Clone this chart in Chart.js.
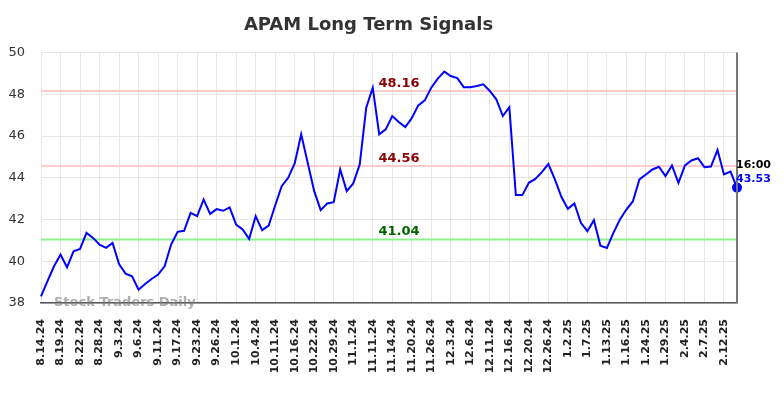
<!DOCTYPE html>
<html>
<head>
<meta charset="utf-8">
<script src="https://cdn.jsdelivr.net/npm/chart.js@4.4.1/dist/chart.umd.min.js"></script>
<style>
  html, body { margin: 0; padding: 0; background: #fff; }
  #wrap { width: 784px; height: 398px; }
</style>
</head>
<body>
<div id="wrap"><canvas id="grafico"></canvas></div>
<script>
// dados do grafico
const datas = [
  '8.14.24','8.15.24','8.16.24','8.19.24','8.20.24','8.21.24','8.22.24','8.23.24','8.27.24','8.28.24',
  '8.29.24','8.30.24','9.3.24','9.4.24','9.5.24','9.6.24','9.9.24','9.10.24','9.11.24','9.12.24',
  '9.16.24','9.17.24','9.18.24','9.20.24','9.23.24','9.24.24','9.25.24','9.26.24','9.27.24','9.30.24',
  '10.1.24','10.2.24','10.3.24','10.4.24','10.8.24','10.10.24','10.11.24','10.14.24','10.15.24','10.16.24',
  '10.17.24','10.21.24','10.22.24','10.24.24','10.28.24','10.29.24','10.30.24','10.31.24','11.1.24','11.5.24',
  '11.7.24','11.11.24','11.12.24','11.13.24','11.14.24','11.18.24','11.19.24','11.20.24','11.21.24','11.25.24',
  '11.26.24','11.27.24','12.2.24','12.3.24','12.4.24','12.5.24','12.6.24','12.9.24','12.10.24','12.11.24',
  '12.12.24','12.13.24','12.16.24','12.17.24','12.19.24','12.20.24','12.23.24','12.24.24','12.26.24','12.27.24',
  '12.31.24','1.2.25','1.3.25','1.6.25','1.7.25','1.8.25','1.10.25','1.13.25','1.14.25','1.15.25',
  '1.16.25','1.21.25','1.23.25','1.24.25','1.27.25','1.28.25','1.29.25','1.31.25','2.3.25','2.4.25',
  '2.5.25','2.6.25','2.7.25','2.10.25','2.11.25','2.12.25','2.13.25','2.14.25'
]

const precos = [
  38.32, 39.05, 39.76, 40.32, 39.71, 40.48, 40.59, 41.36, 41.12, 40.80,
  40.64, 40.88, 39.87, 39.41, 39.28, 38.64, 38.91, 39.15, 39.36, 39.76,
  40.80, 41.41, 41.46, 42.32, 42.16, 42.96, 42.27, 42.50, 42.42, 42.58,
  41.76, 41.52, 41.07, 42.16, 41.49, 41.71, 42.67, 43.60, 44.00, 44.69,
  46.08, 44.72, 43.36, 42.45, 42.77, 42.83, 44.40, 43.36, 43.73, 44.64,
  47.36, 48.32, 46.08, 46.32, 46.96, 46.67, 46.43, 46.86, 47.47, 47.71,
  48.32, 48.75, 49.09, 48.88, 48.78, 48.34, 48.34, 48.40, 48.48, 48.16,
  47.76, 46.96, 47.38, 43.17, 43.17, 43.76, 43.95, 44.27, 44.66, 43.92,
  43.09, 42.51, 42.77, 41.84, 41.44, 41.97, 40.75, 40.64, 41.36, 42.00,
  42.48, 42.88, 43.92, 44.16, 44.40, 44.53, 44.08, 44.59, 43.76, 44.59,
  44.83, 44.94, 44.51, 44.54, 45.33, 44.16, 44.30, 43.53
]

// linhas de sinal
const niveis = [48.16, 44.56, 41.04]
const coresNivel = ['#ffcccc', '#ffcccc', '#90ee90']
const coresTexto = ['#8b0000', '#8b0000', '#006400']

const ultimoHorario = '16:00'

const fonte = "'DejaVu Sans', sans-serif"

// plugin pra desenhar os niveis, textos e a linha da direita
const extras = {
  id: 'extras',
  beforeDatasetsDraw(chart) {
    const ctx = chart.ctx
    const area = chart.chartArea
    const y = chart.scales.y
    ctx.save()
    niveis.forEach((n, i) => {
      const py = y.getPixelForValue(n)
      ctx.strokeStyle = coresNivel[i]
      ctx.lineWidth = 2
      ctx.beginPath()
      ctx.moveTo(area.left, py)
      ctx.lineTo(area.right, py)
      ctx.stroke()
    })
    // marca d'agua
    ctx.font = 'bold 13px ' + fonte
    ctx.fillStyle = 'rgba(120,120,120,0.6)'
    ctx.textAlign = 'left'
    ctx.textBaseline = 'middle'
    ctx.fillText('Stock Traders Daily', area.left + 13, area.bottom)
    ctx.restore()
  },
  afterDatasetsDraw(chart) {
    const ctx = chart.ctx
    const area = chart.chartArea
    const x = chart.scales.x
    const y = chart.scales.y
    ctx.save()
    ctx.font = 'bold 13px ' + fonte
    ctx.textAlign = 'center'
    ctx.textBaseline = 'bottom'
    const meio = (area.left + area.right) / 2 + 10
    niveis.forEach((n, i) => {
      ctx.fillStyle = coresTexto[i]
      ctx.fillText(n.toFixed(2), meio, y.getPixelForValue(n) - 1)
    })
    // linha vertical da direita
    ctx.strokeStyle = '#777'
    ctx.lineWidth = 2
    ctx.beginPath()
    ctx.moveTo(area.right, area.top)
    ctx.lineTo(area.right, area.bottom)
    ctx.stroke()
    // ultimo preco
    const ult = precos.length - 1
    const px = x.getPixelForValue(ult)
    const py = y.getPixelForValue(precos[ult])
    ctx.font = 'bold 11px ' + fonte
    ctx.textAlign = 'left'
    ctx.textBaseline = 'middle'
    ctx.fillStyle = '#000'
    ctx.fillText(ultimoHorario, px - 1, py - 22)
    ctx.fillStyle = '#0000ff'
    ctx.fillText(precos[ult].toFixed(2), px - 1, py - 8)
    ctx.restore()
  }
}

const raios = precos.map((p, i) => i === precos.length - 1 ? 4 : 0)

const config = {
  type: 'line',
  data: {
    labels: datas,
    datasets: [{
      data: precos,
      borderColor: '#0000ff',
      backgroundColor: '#0000ff',
      borderWidth: 2,
      pointRadius: raios,
      pointHoverRadius: raios,
      tension: 0,
      fill: false
    }]
  },
  options: {
    responsive: false,
    animation: false,
    layout: { padding: { left: 0, right: 47, top: 0, bottom: 0 } },
    plugins: {
      legend: { display: false },
      tooltip: { enabled: false },
      title: {
        display: true,
        text: 'APAM Long Term Signals',
        color: '#333',
        font: { family: fonte, size: 18, weight: 'bold' },
        padding: { top: 15, bottom: 16 }
      }
    },
    scales: {
      x: {
        offset: false,
        grid: { color: '#e6e6e6', drawTicks: false },
        border: { color: '#555', width: 1.5 },
        ticks: {
          autoSkip: false,
          maxRotation: 90,
          minRotation: 90,
          padding: 16,
          color: '#222',
          font: { family: fonte, size: 11, weight: 'bold' },
          callback: function (v, i) { return i % 3 === 0 ? datas[i] : null }
        },
        afterFit: (s) => { s.height = 95 }
      },
      y: {
        min: 38,
        max: 50,
        grid: { color: '#e6e6e6', drawTicks: false },
        border: { display: false },
        ticks: {
          stepSize: 2,
          padding: 16,
          color: '#333',
          font: { family: fonte, size: 13 }
        },
        afterFit: (s) => { s.width = 41 }
      }
    }
  },
  plugins: [extras]
}

const canvas = document.getElementById('grafico')
canvas.width = 784
canvas.height = 398
const meuGrafico = new Chart(canvas.getContext('2d'), config)
</script>
</body>
</html>
